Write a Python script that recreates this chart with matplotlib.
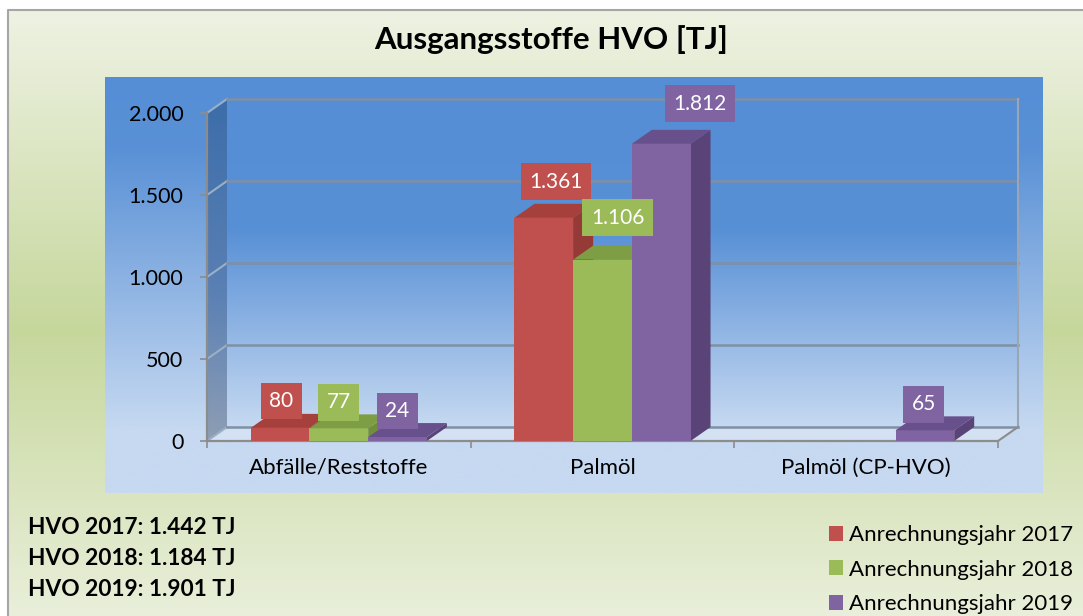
import numpy as np
import matplotlib
matplotlib.use("Agg")
import matplotlib.pyplot as plt
from matplotlib.patches import Polygon, Patch
from matplotlib.transforms import IdentityTransform
from matplotlib.ticker import FixedLocator, FuncFormatter

# ---------------- data ----------------
categories = ["Abfälle/Reststoffe", "Palmöl", "Palmöl (CP-HVO)"]
years = ["2017", "2018", "2019"]
values_2017 = [80, 1361, 0]
values_2018 = [77, 1106, 0]
values_2019 = [24, 1812, 65]
totals = [1442, 1184, 1901]
y_ticks = [0, 500, 1000, 1500, 2000]
title = "Ausgangsstoffe HVO [TJ]"
legend_labels = ["Anrechnungsjahr 2017", "Anrechnungsjahr 2018", "Anrechnungsjahr 2019"]

# ---------------- styles ----------------
front_colors = ["#C0504D", "#9BBB59", "#8064A2"]
top_colors = ["#A5403D", "#7E9E45", "#67508C"]
side_colors = ["#963A37", "#718F3A", "#5A4477"]
# label offsets in pixels relative to bar top centre (series x category)
label_dx = [[1, 12, 0], [0, 15, 0], [0, 39, -1]]
label_dy = [[27, 36, 0], [26, 42, 0], [26, 40, 26]]

plt.rcParams['font.family'] = ['Lato', 'DejaVu Sans']

W, H = 1083, 616
fig = plt.figure(figsize=(W / 100, H / 100), dpi=100)
fig.patch.set_facecolor("white")


def de(v):
    return f"{v:,.0f}".replace(",", ".")


def Y(y_img):
    return H - y_img


ax_bg = fig.add_axes([0, 0, 1, 1], zorder=0)
ax_bg.set_autoscale_on(False)
ax_bg.set_xlim(0, W)
ax_bg.set_ylim(0, H)
ax_bg.axis("off")


def grad(axis, x0, x1, y0, y1, stops, clip=None, z=0):
    n = 300
    ys = np.linspace(y0, y1, n)
    sy = np.array([s[0] for s in stops], dtype=float)
    cols = np.array([matplotlib.colors.to_rgb(s[1]) for s in stops])
    order = np.argsort(sy)
    sy = sy[order]
    cols = cols[order]
    img = np.stack([np.interp(ys, sy, cols[:, k]) for k in range(3)], axis=-1)[:, None, :]
    im = axis.imshow(img, extent=(x0, x1, y0, y1), origin="lower", aspect="auto",
                     zorder=z, interpolation="bilinear")
    if clip is not None:
        im.set_clip_path(clip)
    return im


# outer green background
grad(ax_bg, 8, W, 0, Y(10), [(Y(10), "#EEF2E3"), (Y(330), "#C6D79C"), (Y(616), "#E9EFDA")], z=0)
ax_bg.plot([8, 8, W], [0, Y(10), Y(10)], color="#A6A6A6", lw=1.5, zorder=1)

# blue panel
grad(ax_bg, 105, 1043, Y(493), Y(77),
     [(Y(77), "#558ED5"), (Y(150), "#5A91D6"), (Y(430), "#C6D9F1"), (Y(493), "#C6D9F1")], z=1)

# ---------------- main axes (front plane) ----------------
L, R, B_img, T_img = 207, 998, 441, 113
ax = fig.add_axes([L / W, (H - B_img) / H, (R - L) / W, (B_img - T_img) / H], zorder=1)
ax.set_xlim(-0.5, 2.5)
ax.set_ylim(0, 2000)
ax.patch.set_visible(False)
DX, DY = 20, 14


def P(x, y, d=0):
    px, py = ax.transData.transform((x, y))
    return (px + d * DX, py + d * DY)


# back wall
bl = P(-0.5, 0, 1)
tr = P(2.5, 2000, 1)
grad(ax_bg, bl[0], tr[0], bl[1], tr[1],
     [(tr[1], "#558ED5"), (Y(230), "#5890D6"), (bl[1], "#C6D9F1")], z=2)

# side wall
side_pts = [P(-0.5, 0, 0), P(-0.5, 0, 1), P(-0.5, 2000, 1), P(-0.5, 2000, 0)]
side_poly = Polygon(side_pts, closed=True, fc="none", ec="none", transform=ax_bg.transData)
ax_bg.add_patch(side_poly)
sb = P(-0.5, 0, 0)
st = P(-0.5, 2000, 1)
grad(ax_bg, sb[0], st[0], sb[1], st[1],
     [(st[1], "#3C6DAA"), (sb[1] + 150, "#5A80B4"), (sb[1], "#8E9EB4")], clip=side_poly, z=3)

# floor
floor_pts = [P(-0.5, 0, 0), P(2.5, 0, 0), P(2.5, 0, 1), P(-0.5, 0, 1)]
ax_bg.add_patch(Polygon(floor_pts, closed=True, fc="#D3E1F3", ec="none", zorder=4))

# gridlines (back wall + side wall)
for t in y_ticks:
    a, b, c = P(-0.5, t, 0), P(-0.5, t, 1), P(2.5, t, 1)
    ax_bg.plot([a[0], b[0]], [a[1], b[1]], color="#9AAFC8", lw=1.5, zorder=5)
    ax_bg.plot([b[0], c[0]], [b[1], c[1]], color="#7F90A6", lw=1.8, zorder=5)
# back wall right edge & floor right edge
a, b = P(2.5, 0, 1), P(2.5, 2000, 1)
ax_bg.plot([a[0], b[0]], [a[1], b[1]], color="#9AA6B4", lw=1.5, zorder=5)
a, b = P(2.5, 0, 0), P(2.5, 0, 1)
ax_bg.plot([a[0], b[0]], [a[1], b[1]], color="#8C8C8C", lw=1.5, zorder=5)

# spines / ticks
for s in ["top", "right"]:
    ax.spines[s].set_visible(False)
for s in ["left", "bottom"]:
    ax.spines[s].set_color("#8C8C8C")
    ax.spines[s].set_linewidth(1.6)
ax.yaxis.set_major_locator(FixedLocator(y_ticks))
ax.yaxis.set_major_formatter(FuncFormatter(lambda v, p: de(v)))
ax.tick_params(axis="y", length=5, width=1.2, color="#8C8C8C", pad=12, labelsize=15.5,
               labelcolor="black")
ax.set_xticks(range(len(categories)))
ax.set_xticklabels(categories)
ax.tick_params(axis="x", which="major", length=0, pad=12, labelsize=16)
ax.set_xticks([-0.5, 0.5, 1.5, 2.5], minor=True)
ax.tick_params(axis="x", which="minor", length=5, width=1.2, color="#8C8C8C")

# ---------------- bars ----------------
series = [values_2017, values_2018, values_2019]
bw = 0.2226
z = 3.0
for ci in range(len(categories)):
    for si, vals in enumerate(series):
        v = vals[ci]
        if v == 0:
            continue
        x = ci + (si - 1) * bw
        ax.bar([x], [v], width=bw, color=front_colors[si], zorder=z, clip_on=False)
        top = [P(x - bw / 2, v, 0), P(x + bw / 2, v, 0), P(x + bw / 2, v, 1), P(x - bw / 2, v, 1)]
        side = [P(x + bw / 2, 0, 0), P(x + bw / 2, 0, 1), P(x + bw / 2, v, 1), P(x + bw / 2, v, 0)]
        ax.add_patch(Polygon(top, closed=True, fc=top_colors[si], ec="none",
                             transform=IdentityTransform(), zorder=z + 0.01, clip_on=False))
        ax.add_patch(Polygon(side, closed=True, fc=side_colors[si], ec="none",
                             transform=IdentityTransform(), zorder=z - 0.01, clip_on=False))
        z += 0.1

# value labels
for ci in range(len(categories)):
    for si, vals in enumerate(series):
        v = vals[ci]
        if v == 0:
            continue
        x = ci + (si - 1) * bw
        ax.annotate(de(v), xy=(x, v), xytext=(label_dx[si][ci], label_dy[si][ci]),
                    textcoords="offset pixels", ha="center", va="center", color="white",
                    fontsize=15, zorder=20, annotation_clip=False,
                    bbox=dict(boxstyle="square,pad=0.4", fc=front_colors[si], ec="none"))

# ---------------- texts ----------------
fig.text(551 / W, Y(40) / H, title, ha="center", va="center", fontsize=22.5, fontweight="bold")

for i, (yr, tot) in enumerate(zip(years, totals)):
    fig.text(28 / W, Y(528 + i * 30.5) / H, f"HVO {yr}: {de(tot)} TJ", ha="left", va="center",
             fontsize=16.3, fontweight="bold")

handles = [Patch(fc=c, ec="none") for c in front_colors]
fig.legend(handles, legend_labels, loc="upper left", bbox_to_anchor=(829 / W, Y(525) / H),
           frameon=False, fontsize=16, handlelength=0.62, handleheight=0.66,
           handletextpad=0.3, labelspacing=0.66, borderpad=0, borderaxespad=0)

fig.savefig("out.png", dpi=100)
